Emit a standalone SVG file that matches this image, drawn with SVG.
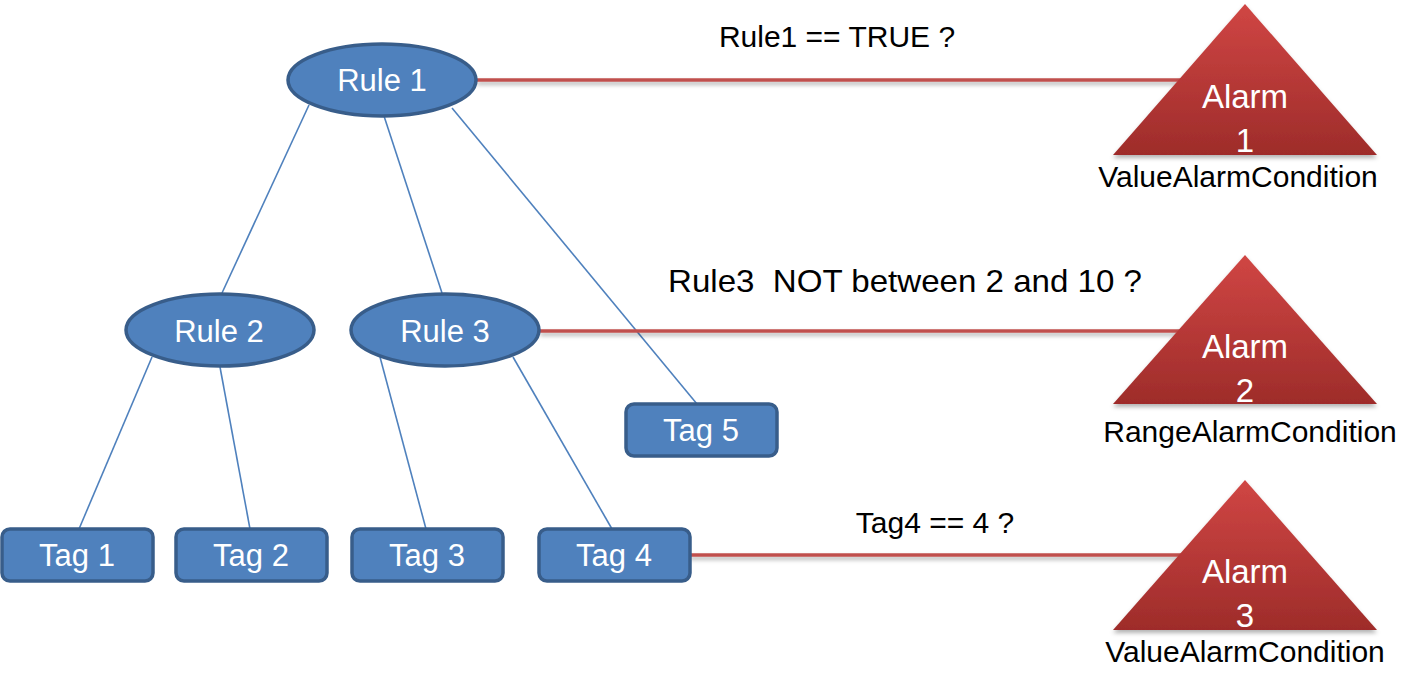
<svg xmlns="http://www.w3.org/2000/svg" width="1419" height="692" viewBox="0 0 1419 692">
<style>
.t{font-family:"Liberation Sans",Arial,sans-serif;font-size:30px;text-anchor:middle}
.n{font-size:31px}
.a{font-size:33px}
.w{fill:#FFFFFF}
.k{fill:#000000}
.ell{fill:#4F81BD;stroke:#385D8A;stroke-width:3.5}
.box{fill:#4F81BD;stroke:#385D8A;stroke-width:3.5}
.blue{stroke:#4F81BD;stroke-width:1.6;fill:none}
.red{stroke:#C0504D;stroke-width:3.5;fill:none}
.tri{fill:url(#rg)}
</style>
<defs>
<linearGradient id="rg" x1="0" y1="0" x2="0" y2="1">
<stop offset="0" stop-color="#D04644"/>
<stop offset="1" stop-color="#9E2C2A"/>
</linearGradient>
<filter id="sh" x="-10%" y="-10%" width="130%" height="140%">
<feDropShadow dx="0" dy="3" stdDeviation="2" flood-color="#000000" flood-opacity="0.3"/>
</filter>
</defs>
<g id="connectors">
<line class="blue" x1="309" y1="105" x2="222" y2="293"/>
<line class="blue" x1="384" y1="116" x2="442" y2="293"/>
<line class="blue" x1="452" y1="108" x2="697" y2="404"/>
<line class="blue" x1="152" y1="357" x2="79" y2="529"/>
<line class="blue" x1="220" y1="367" x2="250" y2="529"/>
<line class="blue" x1="380" y1="357" x2="426" y2="529"/>
<line class="blue" x1="513" y1="357" x2="612" y2="529"/>
<g filter="url(#sh)">
<line class="red" x1="477" y1="80" x2="1190" y2="80"/>
<line class="red" x1="540" y1="331" x2="1190" y2="331"/>
<line class="red" x1="690" y1="555" x2="1190" y2="555"/>
</g>
</g>
<g id="labels">
<text class="t k" x="837" y="47">Rule1 == TRUE ?</text>
<text class="t k" x="905" y="292" style="font-size:32px" xml:space="preserve" textLength="474" lengthAdjust="spacingAndGlyphs">Rule3  NOT between 2 and 10 ?</text>
<text class="t k" x="935" y="533">Tag4 == 4 ?</text>
</g>
<g id="rule1">
<ellipse class="ell" cx="382" cy="80" rx="94" ry="36"/>
<text class="t n w" x="382" y="91">Rule 1</text>
</g>
<g id="rule2">
<ellipse class="ell" cx="220" cy="330" rx="94" ry="36"/>
<text class="t n w" x="219" y="342">Rule 2</text>
</g>
<g id="rule3">
<ellipse class="ell" cx="445" cy="330" rx="94" ry="36"/>
<text class="t n w" x="445" y="342">Rule 3</text>
</g>
<g id="tag1">
<rect class="box" x="2" y="529" width="151" height="52" rx="8"/>
<text class="t n w" x="77" y="566">Tag 1</text>
</g>
<g id="tag2">
<rect class="box" x="176" y="529" width="151" height="52" rx="8"/>
<text class="t n w" x="251" y="566">Tag 2</text>
</g>
<g id="tag3">
<rect class="box" x="352" y="529" width="151" height="52" rx="8"/>
<text class="t n w" x="427" y="566">Tag 3</text>
</g>
<g id="tag4">
<rect class="box" x="539" y="529" width="151" height="52" rx="8"/>
<text class="t n w" x="614" y="566">Tag 4</text>
</g>
<g id="tag5">
<rect class="box" x="626" y="404" width="151" height="52" rx="8"/>
<text class="t n w" x="701" y="441">Tag 5</text>
</g>
<g id="alarm1">
<polygon class="tri" filter="url(#sh)" points="1245,4 1377,155 1113,155"/>
<text class="t a w" x="1245" y="108">Alarm</text>
<text class="t a w" x="1245" y="152">1</text>
<text class="t k" x="1238" y="187">ValueAlarmCondition</text>
</g>
<g id="alarm2">
<polygon class="tri" filter="url(#sh)" points="1245,255 1377,404 1113,404"/>
<text class="t a w" x="1245" y="358">Alarm</text>
<text class="t a w" x="1245" y="402">2</text>
<text class="t k" x="1250" y="442">RangeAlarmCondition</text>
</g>
<g id="alarm3">
<polygon class="tri" filter="url(#sh)" points="1245,480 1377,630 1113,630"/>
<text class="t a w" x="1245" y="583">Alarm</text>
<text class="t a w" x="1245" y="627">3</text>
<text class="t k" x="1245" y="662">ValueAlarmCondition</text>
</g>
</svg>
